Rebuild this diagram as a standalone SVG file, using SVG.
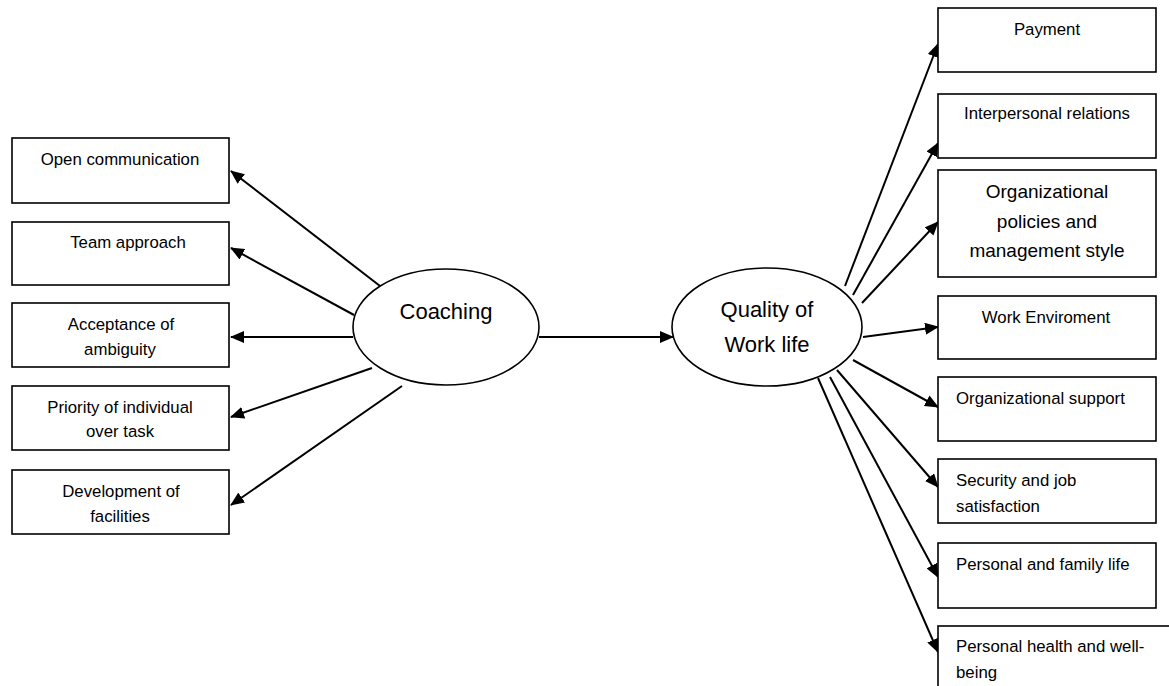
<svg xmlns="http://www.w3.org/2000/svg" width="1169" height="686" viewBox="0 0 1169 686">
<style>
.box{fill:#fff;stroke:#000;stroke-width:1.6}
.ell{fill:#fff;stroke:#000;stroke-width:1.6}
.t{font-family:"Liberation Sans",Arial,sans-serif;font-size:16.8px;fill:#000}
.m{text-anchor:middle}
.big{font-size:22px}
.mid{font-size:19px}
.c line{stroke:#000;stroke-width:2;marker-end:url(#ah)}
</style>
<defs>
<marker id="ah" markerUnits="userSpaceOnUse" markerWidth="14" markerHeight="12" refX="13" refY="6" orient="auto">
<path d="M0,0 L14,6 L0,12 z" fill="#000"/>
</marker>
</defs>
<rect width="1169" height="686" fill="#fff"/>
<g class="c" id="connectors">
<line x1="380" y1="286" x2="231" y2="171"/>
<line x1="354" y1="315" x2="231" y2="248"/>
<line x1="353" y1="337" x2="231" y2="337"/>
<line x1="372" y1="368" x2="231" y2="417"/>
<line x1="402" y1="386" x2="231" y2="505"/>
<line x1="539" y1="337" x2="673" y2="337"/>
<line x1="845" y1="286" x2="938" y2="44"/>
<line x1="853" y1="295" x2="938" y2="143"/>
<line x1="862" y1="303" x2="938" y2="222"/>
<line x1="863" y1="337" x2="938" y2="327"/>
<line x1="853" y1="360" x2="938" y2="407"/>
<line x1="837" y1="370" x2="938" y2="487"/>
<line x1="830" y1="377" x2="938" y2="577"/>
<line x1="818" y1="378" x2="938" y2="652"/>
</g>
<g id="coaching"><ellipse class="ell" cx="446" cy="327" rx="93" ry="58"/><text class="t m big" x="446" y="319">Coaching</text></g>
<g id="qwl"><ellipse class="ell" cx="767" cy="327" rx="95" ry="59"/><text class="t m big" x="767" y="317">Quality of</text><text class="t m big" x="767" y="352">Work life</text></g>
<g id="open-communication"><rect class="box" x="12" y="138" width="217" height="65"/><text class="t m" x="120" y="165">Open communication</text></g>
<g id="team-approach"><rect class="box" x="12" y="222" width="217" height="63"/><text class="t m" x="128" y="248">Team approach</text></g>
<g id="acceptance"><rect class="box" x="12" y="303" width="217" height="64"/><text class="t m" x="121" y="330">Acceptance of</text><text class="t m" x="120" y="355">ambiguity</text></g>
<g id="priority"><rect class="box" x="12" y="386" width="217" height="64"/><text class="t m" x="120" y="413">Priority of individual</text><text class="t m" x="120" y="437">over task</text></g>
<g id="development"><rect class="box" x="12" y="470" width="217" height="64"/><text class="t m" x="121" y="497">Development of</text><text class="t m" x="120" y="522">facilities</text></g>
<g id="payment"><rect class="box" x="938" y="8" width="218" height="64"/><text class="t m" x="1047" y="35">Payment</text></g>
<g id="interpersonal"><rect class="box" x="938" y="94" width="218" height="64"/><text class="t m" x="1047" y="119">Interpersonal relations</text></g>
<g id="org-policies"><rect class="box" x="938" y="170" width="218" height="107"/><text class="t m mid" x="1047" y="198">Organizational</text><text class="t m mid" x="1047" y="228">policies and</text><text class="t m mid" x="1047" y="257">management style</text></g>
<g id="work-env"><rect class="box" x="938" y="296" width="218" height="63"/><text class="t m" x="1046" y="323">Work Enviroment</text></g>
<g id="org-support"><rect class="box" x="938" y="377" width="218" height="64"/><text class="t" x="956" y="404">Organizational support</text></g>
<g id="security"><rect class="box" x="938" y="459" width="218" height="64"/><text class="t" x="956" y="486">Security and job</text><text class="t" x="956" y="512">satisfaction</text></g>
<g id="personal-family"><rect class="box" x="938" y="543" width="218" height="65"/><text class="t" x="956" y="570">Personal and family life</text></g>
<g id="personal-health"><rect class="box" x="938" y="626" width="240" height="80"/><text class="t" x="956" y="652">Personal health and well-</text><text class="t" x="956" y="678">being</text></g>
</svg>
